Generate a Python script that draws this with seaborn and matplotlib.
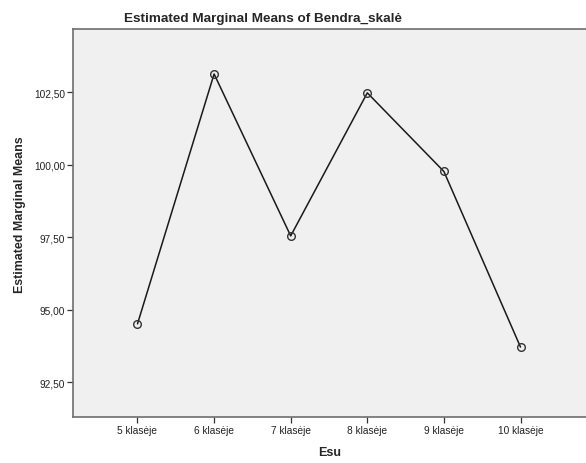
import matplotlib
matplotlib.use("Agg")
import matplotlib.pyplot as plt
from matplotlib.ticker import FuncFormatter, FixedLocator
import seaborn as sns
import pandas as pd

categories = ["5 klasėje", "6 klasėje", "7 klasėje", "8 klasėje", "9 klasėje", "10 klasėje"]
means = [94.52, 103.13, 97.55, 102.48, 99.77, 93.72]
y_ticks = [92.5, 95.0, 97.5, 100.0, 102.5]

sns.set_style("white")
plt.rcParams["font.family"] = ["Liberation Sans", "DejaVu Sans"]

fig = plt.figure(figsize=(5.86, 4.64), dpi=100)
fig.patch.set_facecolor("white")
ax = fig.add_axes([73/586, 46/464, 513/586, 388/464])
ax.set_facecolor("#f0f0f0")

df = pd.DataFrame({"Esu": categories, "mean": means})
sns.lineplot(data=df, x="Esu", y="mean", ax=ax, color="#1a1a1a", linewidth=1.1,
             marker="o", markersize=5.5, markerfacecolor="none",
             markeredgecolor="#333333", markeredgewidth=1.0, sort=False)

ax.set_xlim(-0.842, 5.855)
ax.set_ylim(91.31, 104.68)
ax.yaxis.set_major_locator(FixedLocator(y_ticks))
ax.yaxis.set_major_formatter(FuncFormatter(lambda v, p: f"{v:.2f}".replace(".", ",")))

for s in ["left", "top", "bottom"]:
    ax.spines[s].set_color("#6e6e6e")
    ax.spines[s].set_linewidth(1.2)
ax.spines["right"].set_visible(False)

ax.tick_params(axis="both", direction="out", length=4, width=0.9, color="#333333",
               labelsize=7.3, labelcolor="#222222", pad=1.5, left=True, bottom=True)

ax.set_xlabel("Esu", fontsize=9, fontweight="bold", labelpad=8)
ax.set_ylabel("")
fig.text(20/586, 1 - 215/464, "Estimated Marginal Means", rotation=90,
         ha="center", va="center", fontsize=8.9, fontweight="bold")
fig.text(263/586, 1 - 19/464, "Estimated Marginal Means of Bendra_skalė",
         ha="center", va="center", fontsize=9.7, fontweight="bold")

fig.savefig("out.png", dpi=100)
